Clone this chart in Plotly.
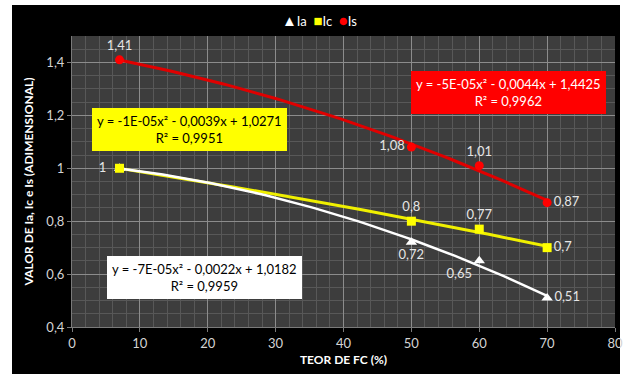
import numpy as np
import plotly.graph_objects as go

# ---- data ----
teor_fc = [7, 50, 60, 70]
ia_vals = [1.0, 0.72, 0.65, 0.51]
ic_vals = [1.0, 0.80, 0.77, 0.70]
is_vals = [1.41, 1.08, 1.01, 0.87]

series_names = ["Ia", "Ic", "Is"]
series_colors = ["#ffffff", "#ffff00", "#ff0000"]
legend_glyphs = ["▲", "■", "●"]

eq_ia = "y = -7E-05x² - 0,0022x + 1,0182<br>R² = 0,9959"
eq_ic = "y = -1E-05x² - 0,0039x + 1,0271<br>R² = 0,9951"
eq_is = "y = -5E-05x² - 0,0044x + 1,4425<br>R² = 0,9962"

x_ticks = [0, 10, 20, 30, 40, 50, 60, 70, 80]
y_ticks = [0.4, 0.6, 0.8, 1.0, 1.2, 1.4]

FONT = "Lato, 'Open Sans', sans-serif"
W, H = 633, 374
L, R, T, B = 72, 18, 36, 47
PW, PH = W - L - R, H - T - B


def fmt(v):
    return f"{v:g}".replace(".", ",")


def px2paper(px, py):
    return (px - L) / PW, (H - B - py) / PH


fig = go.Figure()

# trendlines (2nd-order polynomial fits of the series)
xs = np.linspace(min(teor_fc), max(teor_fc), 80)
for vals, col, w in [(is_vals, "#e00000", 3), (ic_vals, "#f0f000", 3), (ia_vals, "#ffffff", 2.5)]:
    c = np.polyfit(teor_fc, vals, 2)
    fig.add_trace(go.Scatter(x=xs, y=np.polyval(c, xs), mode="lines",
                             line=dict(color=col, width=w), showlegend=False,
                             hoverinfo="skip"))

lbl_font = dict(family=FONT, size=13, color="#e6e6e6")

fig.add_trace(go.Scatter(
    x=teor_fc, y=ia_vals, name=series_names[0], mode="markers+text",
    marker=dict(symbol="triangle-up", size=10, color=series_colors[0]),
    text=[""] + [fmt(v) for v in ia_vals[1:]],
    textposition=["bottom center", "bottom center", "bottom left", "middle right"],
    textfont=lbl_font))
fig.add_trace(go.Scatter(
    x=teor_fc, y=ic_vals, name=series_names[1], mode="markers+text",
    marker=dict(symbol="square", size=9, color=series_colors[1]),
    text=[fmt(v) + "\u2002" if i == 0 else fmt(v) for i, v in enumerate(ic_vals)],
    textposition=["middle left", "top center", "top center", "middle right"],
    textfont=lbl_font))
fig.add_trace(go.Scatter(
    x=teor_fc, y=is_vals, name=series_names[2], mode="markers+text",
    marker=dict(symbol="circle", size=9, color=series_colors[2]),
    text=[fmt(v) for v in is_vals],
    textposition=["top center", "middle left", "top center", "middle right"],
    textfont=lbl_font))

# black chart background, then plot-area fill on top of it
x0, y1 = px2paper(12, 5)
x1, y0 = px2paper(620, 374)
fig.add_shape(type="rect", xref="paper", yref="paper", x0=x0, x1=x1, y0=y0, y1=y1,
              fillcolor="#000000", line=dict(width=0), layer="below")
fig.add_shape(type="rect", xref="paper", yref="paper", x0=0, x1=1, y0=0, y1=1,
              fillcolor="#3d3d3d", line=dict(width=0), layer="below")

# legend drawn as text (compact, like the original)
leg_txt = "&nbsp;&nbsp;".join(
    f"<span style='color:{c};font-size:15px'>{g}</span>{n}"
    for g, c, n in zip(legend_glyphs, series_colors, series_names))
lx, ly = px2paper(319, 20)
fig.add_annotation(x=lx, y=ly, xref="paper", yref="paper", text=leg_txt, showarrow=False,
                   xanchor="center", yanchor="middle",
                   font=dict(family=FONT, size=13, color="#ffffff"))

# equation boxes
for txt, cx, cy, bg, fc in [(eq_ic, 189, 129, "#ffff00", "#000000"),
                            (eq_is, 508, 92, "#ff0000", "#ffffff"),
                            (eq_ia, 204, 277, "#ffffff", "#000000")]:
    ax_, ay_ = px2paper(cx, cy)
    fig.add_annotation(x=ax_, y=ay_, xref="paper", yref="paper", text=txt,
                       xanchor="center", yanchor="middle",
                       showarrow=False, bgcolor=bg, borderpad=5, borderwidth=0,
                       font=dict(family=FONT, size=13, color=fc), align="center")

grid_major = "#8c8c8c"
grid_minor = "#585858"
fig.update_xaxes(range=[0, 80], tickvals=x_ticks, ticktext=[str(v) for v in x_ticks],
                 showgrid=True, gridcolor=grid_major, gridwidth=1,
                 minor=dict(dtick=2, showgrid=True, gridcolor=grid_minor, gridwidth=1),
                 showline=True, linecolor="#7a7a7a", ticks="outside", ticklen=4,
                 tickcolor="#7a7a7a", zeroline=False,
                 tickfont=dict(family=FONT, size=13, color="#d4d4d4"),
                 title=dict(text="<b>TEOR DE FC (%)</b>", standoff=6,
                            font=dict(family=FONT, size=12, color="#ffffff")))
fig.update_yaxes(range=[0.4, 1.5], tickvals=y_ticks, ticktext=[fmt(v) for v in y_ticks],
                 showgrid=True, gridcolor=grid_major, gridwidth=1,
                 minor=dict(dtick=0.05, showgrid=True, gridcolor=grid_minor, gridwidth=1),
                 showline=True, linecolor="#7a7a7a", ticks="outside", ticklen=4,
                 tickcolor="#7a7a7a", zeroline=False,
                 tickfont=dict(family=FONT, size=13, color="#d4d4d4"),
                 title=dict(text="<b>VALOR DE Ia, Ic e Is (ADIMENSIONAL)</b>", standoff=10,
                            font=dict(family=FONT, size=12, color="#ffffff")))

fig.update_layout(
    width=W, height=H, margin=dict(l=L, r=R, t=T, b=B, autoexpand=False),
    paper_bgcolor="#ffffff", plot_bgcolor="#3d3d3d",
    separators=",.",
    showlegend=False,
)

fig.write_html("out.html", config={"displayModeBar": False},
               post_script="document.body.style.margin='0';document.body.style.overflow='hidden';")
